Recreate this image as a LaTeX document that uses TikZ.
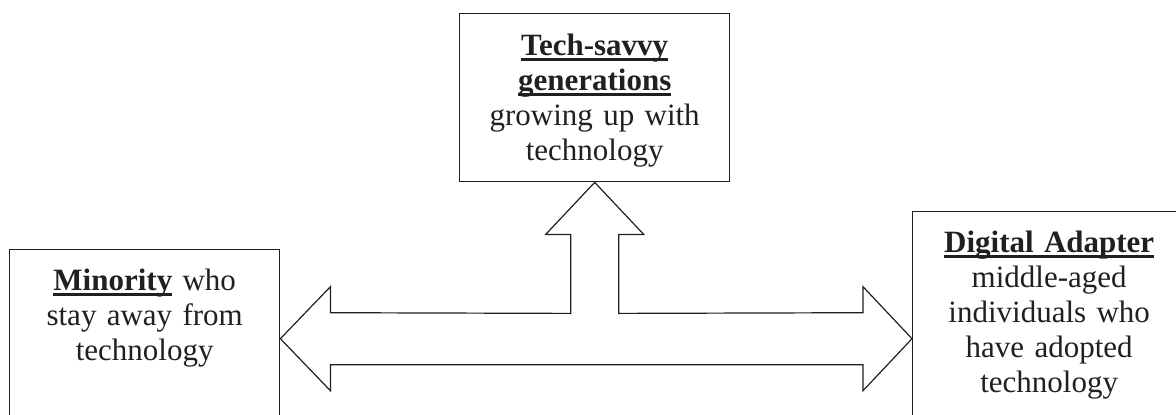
\documentclass[tikz,border=0pt]{standalone}
\usepackage{fontspec}
\setmainfont{Liberation Serif}
\usepackage{xcolor}
\usetikzlibrary{positioning,calc}
\definecolor{ink}{RGB}{35,31,32}
\newcommand{\ulbold}[1]{\leavevmode\setbox0\hbox{\bfseries #1}\rlap{\rule[-5.5pt]{\wd0}{2.8pt}}\box0\relax}

\begin{document}
\begin{tikzpicture}[x=1pt,y=-1pt,
    box/.style={draw=ink, line width=1.4pt, inner sep=0pt},
    txt/.style={text=ink, inner sep=0pt, align=center, text width=266pt, font=\fontsize{31}{35}\selectfont}]
                \useasboundingbox (0,0) rectangle (1176,415);
                \clip (0,0) rectangle (1176,415);
                \node[box, anchor=north west, minimum width=270pt, minimum height=168pt] (gen) at (459,13) {};
                \node[box, anchor=north west, minimum width=270pt, minimum height=178pt] (minority) at (9,249) {};
                \node[box, anchor=north west, minimum width=273pt, minimum height=254pt] (adapter) at (912,211) {};
                \node[txt, below=21pt of gen.north] (gentxt) {\ulbold{Tech-savvy}\\ \ulbold{generations}\\ growing up with\\ technology};
                \node[txt, below=20pt of minority.north] (minoritytxt) {\ulbold{Minority} who\\ stay away from\\ technology};
                \node[txt, below=20pt of adapter.north] (adaptertxt) {\ulbold{Digital Adapter}\\ middle-aged\\ individuals who\\ have adopted\\ technology};
                \draw[ink, line width=1.2pt, line join=miter] (minority.east) -- ++(50,-52) -- ++(0,26)
                    -- ($(gen.south)+(-24,131)$) -- ++(0,-79) -- ++(-25,0) -- (gen.south)
                    -- ++(49,52) -- ++(-25,0) -- ++(0,79)
                    -- ($(adapter.west)+(-49,-26)$) -- ++(0,-26) -- (adapter.west)
                    -- ++(-49,52) -- ++(0,-26) -- ($(minority.east)+(50,26)$) -- ++(0,26) -- cycle;
            \end{tikzpicture}
\end{document}
